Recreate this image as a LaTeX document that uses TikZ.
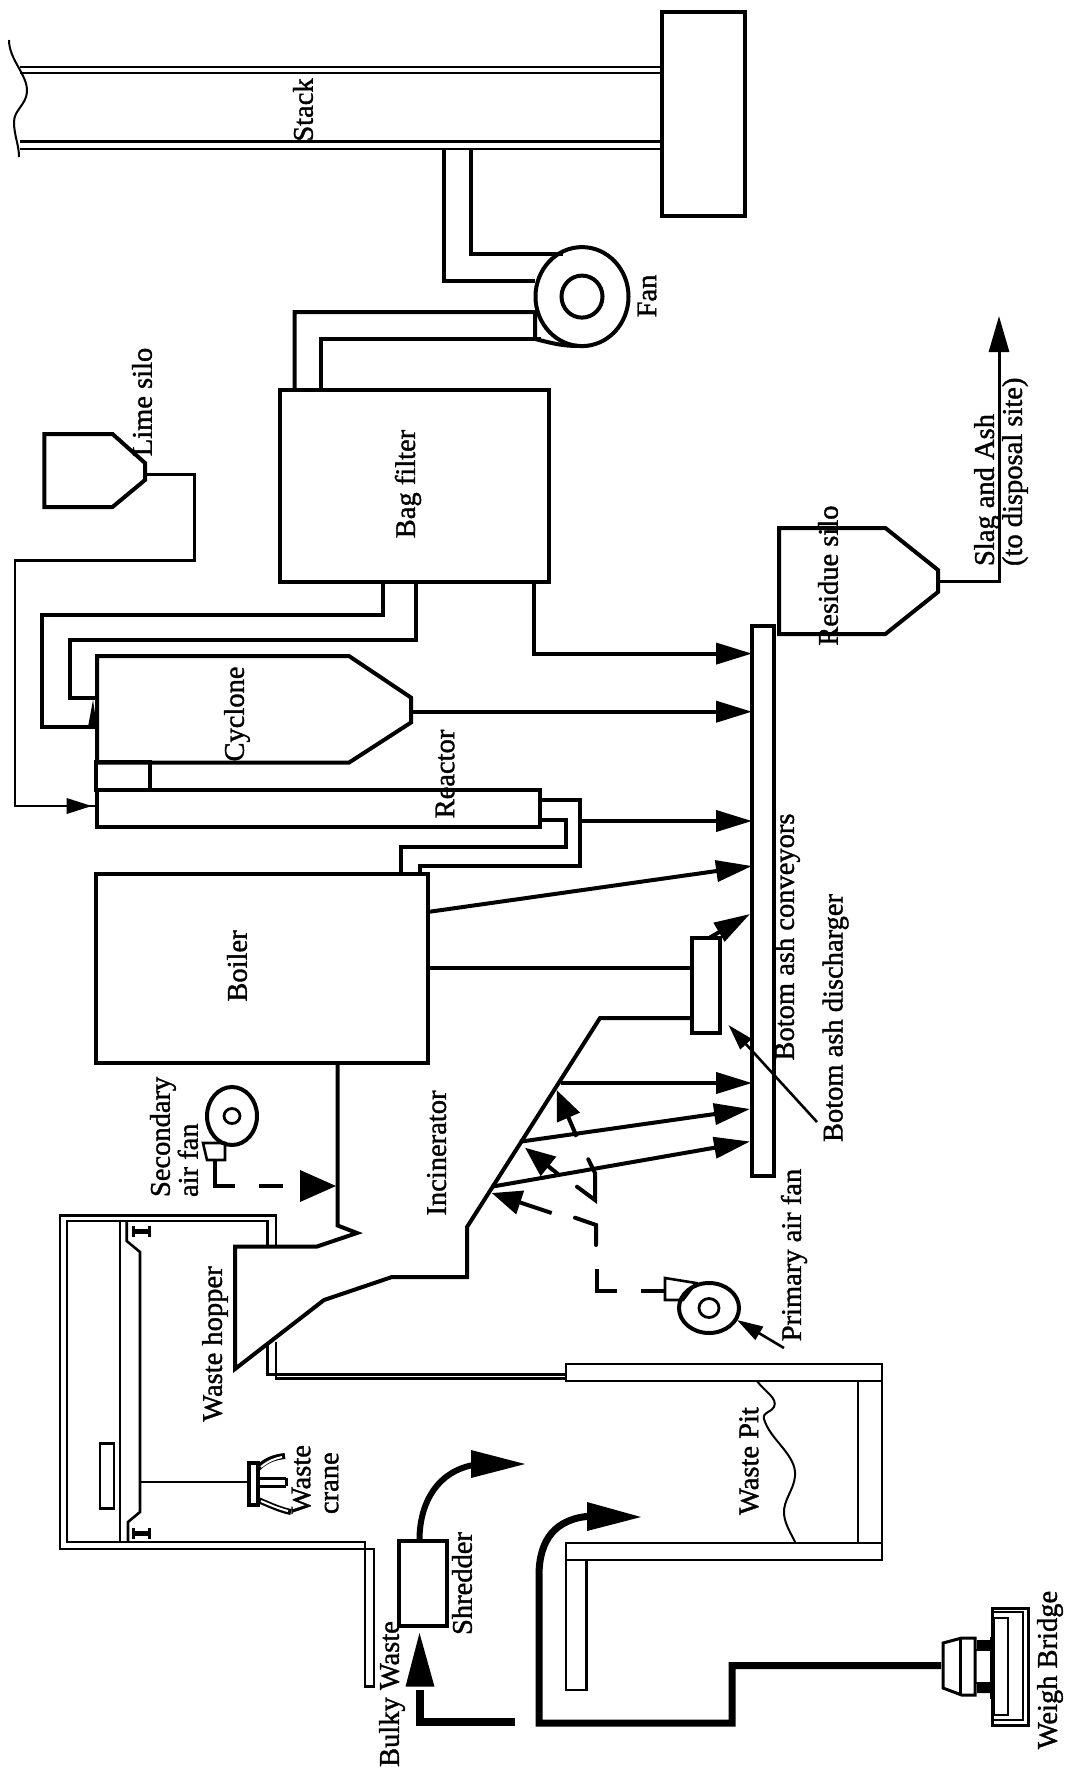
\documentclass[tikz,border=0pt]{standalone}
\usepackage{fontspec}
\setmainfont{Liberation Serif}[FakeBold=1.3]
\usetikzlibrary{arrows.meta,shapes.geometric}
\tikzset{
  ln/.style={line width=4pt,line join=miter},
  tn/.style={line width=2.6pt,line join=miter},
  box/.style={draw,line width=4pt,inner sep=0pt,outer sep=0pt,rectangle},
  tbox/.style={draw,line width=2.8pt,inner sep=0pt,outer sep=0pt,rectangle},
  oval/.style={draw,ellipse,line width=4pt,inner sep=0pt,outer sep=0pt},
  lab/.style={rotate=90,inner sep=0pt,outer sep=0pt,font=\fontsize{28.5}{28}\selectfont},
  labl/.style={lab,anchor=west,align=left},
  arr/.style={ln,-{Triangle[length=36pt,width=21pt]}},
  arrs/.style={line width=2.6pt,-{Triangle[length=26pt,width=15pt]}},
  arrt/.style={line width=4pt,-{Triangle[length=30pt,width=24pt]}},
}
\begin{document}
\begin{tikzpicture}[x=1pt,y=-1pt]
\useasboundingbox[fill=white] (0,0) rectangle (1066,1771);

%%% --- boxes
\node[tbox,line width=3.2pt,minimum width=83pt,minimum height=204pt] (base) at (703.5,114) {};
\node[box,minimum width=269pt,minimum height=192pt] (bag) at (414.5,486) {};
\node[box,minimum width=332pt,minimum height=189pt] (boiler) at (261.6,968) {};
\node[box,minimum width=28pt,minimum height=95pt] (disch) at (706,985) {};
\node[box,line width=3.6pt,minimum width=22pt,minimum height=550pt] (conv) at (763,901) {};
\node[box,minimum width=443pt,minimum height=37pt] (reactor) at (318.5,808.5) {};
\node[box,minimum width=54pt,minimum height=28pt] (smallbox) at (123,775.5) {};
\node[box,minimum width=48pt,minimum height=85pt] (shred) at (423,1583) {};
\node[oval,minimum width=93pt,minimum height=99pt] (fan) at (582,296.6) {};
\node[oval,minimum width=41pt,minimum height=42pt] (fanhub) at (582,296.6) {};
\node[oval,minimum width=50pt,minimum height=58pt] (safan) at (232,1116) {};
\node[oval,line width=2.8pt,minimum width=16pt,minimum height=15pt] (safanhub) at (232,1116) {};
\node[oval,minimum width=60pt,minimum height=50pt] (pafan) at (709,1308) {};
\node[oval,line width=2.8pt,minimum width=20pt,minimum height=19pt] (pafanhub) at (709,1308) {};

%%% --- stack
\coordinate (st1) at (20,67); \coordinate (st1e) at (base.west |- st1);
\coordinate (st2) at (20,73); \coordinate (st2e) at (base.west |- st2);
\coordinate (st3) at (20,141.6); \coordinate (st3e) at (base.west |- st3);
\coordinate (st4) at (20,149); \coordinate (st4e) at (base.west |- st4);
\draw[tn] (st1) -- (st1e); \draw[tn] (st2) -- (st2e);
\draw[tn] (st3) -- (st3e); \draw[tn] (st4) -- (st4e);
\draw[line width=2pt] (9,40) .. controls (9,60) and (28,75) .. (27,92)
   .. controls (26,105) and (14,110) .. (14,122) .. controls (14,135) and (19,145) .. (19,157);

%%% --- fan ducts
\coordinate (d1) at (443.5,149); \coordinate (d1a) at (443.5,281); \coordinate (d1b) at (535,281);
\coordinate (d2) at (470.7,149); \coordinate (d2a) at (470.7,254.5); \coordinate (d2b) at (563,254.5);
\draw[ln] (d1) -- (d1a) -- (d1b);
\draw[ln] (d2) -- (d2a) -- (d2b);
\coordinate (d3) at (294.7,390); \coordinate (d3a) at (294.7,312); \coordinate (d3b) at (535,312);
\coordinate (d4) at (320.6,390); \coordinate (d4a) at (320.6,338.7); \coordinate (d4b) at (541,338.7);
\draw[ln] (d3) -- (d3a) -- (d3b) -- (535,339) .. controls (548,342) and (560,346) .. (578,346);
\draw[ln] (d4) -- (d4a) -- (d4b);

%%% --- lime silo
\draw[ln] (44.3,434) -- (112.5,434) -- (145,463) -- (145,480) -- (112.5,507) -- (44.3,507) -- cycle;
\coordinate (lm0) at (146,474.5); \coordinate (lm1) at (194.4,474.5); \coordinate (lm2) at (194.4,560.6);
\coordinate (lm3) at (15,560.6); \coordinate (lm4) at (15,806); \coordinate (lm5) at (reactor.west |- lm4);
\draw[tn] (lm0) -- (lm1) -- (lm2) -- (lm3) -- (lm4) -- (lm5);
\fill (66.7,798) -- (91.7,806) -- (66.7,814) -- cycle;

%%% --- cyclone
\draw[ln] (97,656) -- (349,656) -- (411,697.6) -- (411,722.5) -- (349,762.6) -- (97,762.6) -- cycle;
\coordinate (cyo) at (411,711.7);
\coordinate (cyt) at (conv.west |- cyo);
\draw[arr] (cyo) -- (cyt);

%%% --- bag filter outlets
\coordinate (b1) at (383.4,582); \coordinate (b1a) at (383.4,615); \coordinate (b1b) at (42,615);
\coordinate (b1c) at (42,727); \coordinate (b1d) at (97,727);
\draw[ln] (b1) -- (b1a) -- (b1b) -- (b1c) -- (b1d);
\coordinate (b2) at (416,582); \coordinate (b2a) at (416,640); \coordinate (b2b) at (69.6,640);
\coordinate (b2c) at (69.6,698); \coordinate (b2d) at (97,698);
\draw[ln] (b2) -- (b2a) -- (b2b) -- (b2c) -- (b2d);
\fill (93,700) -- (97,727) -- (88,727) -- cycle;
\coordinate (b3) at (534,582); \coordinate (b3a) at (534,653.6); \coordinate (b3b) at (752,653.6);
\draw[arr] (b3) -- (b3a) -- (b3b);

%%% --- reactor to boiler
\coordinate (r1) at (540,800); \coordinate (r1a) at (580,800); \coordinate (r1b) at (580,866);
\coordinate (r1c) at (419.5,866); \coordinate (r1d) at (419.5,873.5);
\draw[ln] (r1) -- (r1a) -- (r1b) -- (r1c) -- (r1d);
\coordinate (r2) at (540,820); \coordinate (r2a) at (566,820); \coordinate (r2b) at (566,847);
\coordinate (r2c) at (401,847); \coordinate (r2d) at (401,873.5);
\draw[ln] (r2) -- (r2a) -- (r2b) -- (r2c) -- (r2d);
\coordinate (r3) at (580,821); \coordinate (r3t) at (conv.west |- r3);
\draw[arr] (r3) -- (r3t);

%%% --- boiler and discharger arrows
\coordinate (bo1) at (427.7,912); \coordinate (bo1t) at (752,866);
\draw[arr] (bo1) -- (bo1t);
\coordinate (bo2) at (427.7,968); \coordinate (bo2t) at (disch.west |- bo2);
\draw[ln] (bo2) -- (bo2t);
\coordinate (di1) at (710,937.5); \coordinate (di1t) at (750,914);
\draw[arr] (di1) -- (di1t);
\coordinate (pt1) at (817,1122); \coordinate (pt1t) at (728.5,1025);
\draw[arrs] (pt1) -- (pt1t);

%%% --- incinerator outline
\draw[ln] (692,1018) -- (600,1018) -- (467,1227) -- (467,1277) -- (392,1277) -- (324,1300)
  -- (235,1369) -- (235,1246.5) -- (317,1246.5) -- (357,1233) -- (337.6,1225.5) -- (337.6,1062);
\coordinate (i1) at (560.7,1083); \coordinate (i1t) at (conv.west |- i1);
\draw[arr] (i1) -- (i1t);
\coordinate (i2) at (520,1141.7); \coordinate (i2t) at (750,1109);
\draw[arr] (i2) -- (i2t);
\coordinate (i3) at (491.7,1186.7); \coordinate (i3t) at (750,1141.5);
\draw[arr] (i3) -- (i3t);

%%% --- primary air
\coordinate (pa1) at (576.7,1136.7); \coordinate (pa1t) at (556.7,1090);
\draw[arrt] (pa1) -- (pa1t);
\coordinate (pa2) at (558,1174); \coordinate (pa2t) at (525,1147.7);
\draw[arrt] (pa2) -- (pa2t);
\coordinate (pa3) at (551.7,1213); \coordinate (pa3t) at (491.7,1193);
\draw[arrt] (pa3) -- (pa3t);
\draw[ln,line cap=round] (588.3,1159.3) -- (595,1173) -- (595,1200) -- (577,1186.7);
\draw[ln,line cap=round] (575,1217.7) -- (596,1225) -- (596,1245);
\draw[ln] (597,1269) -- (597,1290.5) -- (617,1290.5);
\draw[ln] (641,1290.5) -- (665,1290.5);
\draw[tn] (665,1278) -- (696,1283) -- (683,1300) -- (665,1300) -- cycle;
\coordinate (pp) at (784,1348); \coordinate (ppt) at (737,1320);
\draw[arrs] (pp) -- (ppt);

%%% --- secondary air
\draw[tn] (203,1143) -- (225,1143) -- (225,1160) -- (207,1160) -- cycle;
\coordinate (sa0) at (215,1160.6); \coordinate (sa1) at (215,1185.5); \coordinate (sa2) at (235,1185.5);
\draw[ln] (sa0) -- (sa1) -- (sa2);
\draw[ln] (259,1185.5) -- (283,1185.5);
\fill (300,1170) -- (336,1186) -- (300,1202) -- cycle;

%%% --- crane building
\draw[tn] (276,1246.5) -- (276,1215.7) -- (60,1215.7) -- (60,1549) -- (373.8,1549) -- (373.8,1686.6) -- (365,1686.6) -- (365,1542) -- (67,1542) -- (67,1221) -- (267.4,1221) -- (267.4,1246.5);
\draw[tn] (120,1222) -- (120,1541);
\draw[tn] (126.7,1222) -- (126.7,1241) -- (140,1252) -- (140,1512) -- (128,1522) -- (128,1541);
\draw[line width=5pt] (133,1231.5) -- (148,1231.5);
\draw[line width=3pt] (133,1226) -- (133,1237) (149,1226) -- (149,1237);
\draw[line width=5pt] (133,1533.5) -- (148,1533.5);
\draw[line width=3pt] (133,1528) -- (133,1539) (149,1528) -- (149,1539);
\node[tbox,minimum width=14pt,minimum height=65pt] (trolley) at (107,1476) {};
\node[tbox,line width=3.5pt,minimum width=9pt,minimum height=42pt] (grab) at (253.5,1484) {};
\coordinate (cr1) at (140,1481.7); \coordinate (cr2) at (grab.west |- cr1);
\draw[line width=2pt] (cr1) -- (cr2);
\draw[line width=6pt] (258,1468) .. controls (266,1460) and (275,1457) .. (285,1456);
\draw[line width=2pt,white] (261,1467) .. controls (268,1461) and (275,1458.5) .. (282,1457);
\draw[line width=6pt] (258,1500) .. controls (268,1504) and (280,1510) .. (291,1512);
\draw[line width=2pt,white] (261,1501) .. controls (268,1504) and (278,1508.5) .. (288,1511);
\draw[line width=3pt] (258,1478) -- (286,1478) (258,1486) -- (286,1486) (286,1478) -- (286,1486);

%%% --- waste pit
\draw[tn] (276,1342) -- (276,1378.6) -- (566,1378.6);
\draw[tn] (267.4,1342) -- (267.4,1374.7) -- (566,1374.7);
\node[tbox,minimum width=316pt,minimum height=17pt] (pitA) at (724,1372.5) {};
\node[tbox,minimum width=316pt,minimum height=17pt] (pitB) at (724,1551.5) {};
\node[tbox,minimum width=24pt,minimum height=162pt] (pitC) at (870,1462) {};
\node[tbox,minimum width=20.6pt,minimum height=130pt] (pitD) at (576.3,1625) {};
\draw[line width=2pt] (757,1381) .. controls (765,1392) and (778,1398) .. (774,1407)
  .. controls (772,1412) and (762,1412) .. (764,1419)
  .. controls (770,1440) and (797,1455) .. (795,1476)
  .. controls (794,1490) and (783,1500) .. (784,1514) .. controls (785,1525) and (792,1535) .. (795,1542);

%%% --- flow arrows at the pit
\draw[line width=6pt] (419.5,1540) .. controls (419.5,1500) and (440,1468) .. (480,1464);
\fill (471,1450) -- (525,1464) -- (471,1478) -- cycle;
\coordinate (bw0) at (515,1722); \coordinate (bw1) at (419.5,1722); \coordinate (bw2) at (419.5,1690);
\draw[line width=8pt] (bw0) -- (bw1) -- (bw2);
\fill (405.5,1686.6) -- (419.5,1633) -- (434.5,1686.6) -- cycle;
\coordinate (wb0) at (941,1665.6); \coordinate (wb1) at (732,1665.6); \coordinate (wb2) at (732,1723);
\coordinate (wb3) at (539,1723); \coordinate (wb4) at (539,1575.7);
\draw[line width=7pt,line join=miter] (wb0) -- (wb1) -- (wb2) -- (wb3) -- (wb4) .. controls (539,1540) and (555,1518) .. (592,1516);
\fill (587,1502) -- (641,1517) -- (587,1531) -- cycle;

%%% --- weigh bridge
\draw[line width=3pt] (943,1643) -- (961.7,1638) -- (975,1638) -- (975,1695) -- (961.7,1695) -- (943,1688) -- cycle;
\draw[line width=3pt] (960.5,1638) -- (960.5,1695);
\node[tbox,minimum width=18pt,minimum height=33pt] (wbneck) at (984,1666.5) {};
\node[tbox,minimum width=14pt,minimum height=97pt] (wbplate) at (1001,1666.5) {};
\draw[line width=4pt] (992,1637) -- (992,1699);
\fill (977,1640) rectangle (992,1649) (977,1684) rectangle (992,1693);
\draw[line width=3pt] (992,1608) -- (1028,1608) -- (1028,1725) -- (992,1725) -- cycle;
\draw[line width=2pt] (992,1612) -- (1023,1612) -- (1023,1720) -- (992,1720);

%%% --- residue silo
\draw[ln] (779,528) -- (885.4,528) -- (938,570) -- (938,592) -- (885.4,634) -- (779,634) -- cycle;
\coordinate (re0) at (938,581.7); \coordinate (re1) at (999,581.7); \coordinate (re2) at (999,316);
\draw[line width=3pt,-{Triangle[length=36pt,width=20pt]}] (re0) -- (re1) -- (re2);

%%% --- labels
\node[lab] (t1) at (303,110) {Stack};
\node[lab] (t2) at (647,296) {Fan};
\node[lab] (t3) at (142,402) {Lime silo};
\node[lab] (t4) at (408,484) {Bag filter};
\node[lab] (t5) at (237,714) {Cyclone};
\node[lab] (t6) at (445,774) {Reactor};
\node[lab] (t7) at (237,966) {Boiler};
\node[lab] (t8) at (787,937) {Botom ash conveyors};
\node[lab] (t9) at (835.6,1018) {Botom ash discharger};
\node[lab] (t10) at (436.6,1153) {Incinerator};
\node[lab] (t11) at (794,1255) {Primary air fan};
\node[labl] (t12) at (174,1197) {Secondary\\air fan};
\node[lab] (t13) at (215,1344) {Waste hopper};
\node[labl] (t14) at (315,1514) {Waste\\crane};
\node[lab] (t15) at (462,1583.5) {Shredder};
\node[lab] (t16) at (392,1694) {Bulky Waste};
\node[lab] (t17) at (749,1461) {Waste Pit};
\node[lab] (t18) at (1050,1670) {Weigh Bridge};
\node[lab] (t19) at (828,575.6) {Residue silo};
\node[labl] (t20) at (1001,566) {Slag and Ash\\(to disposal site)};
\end{tikzpicture}
\end{document}
